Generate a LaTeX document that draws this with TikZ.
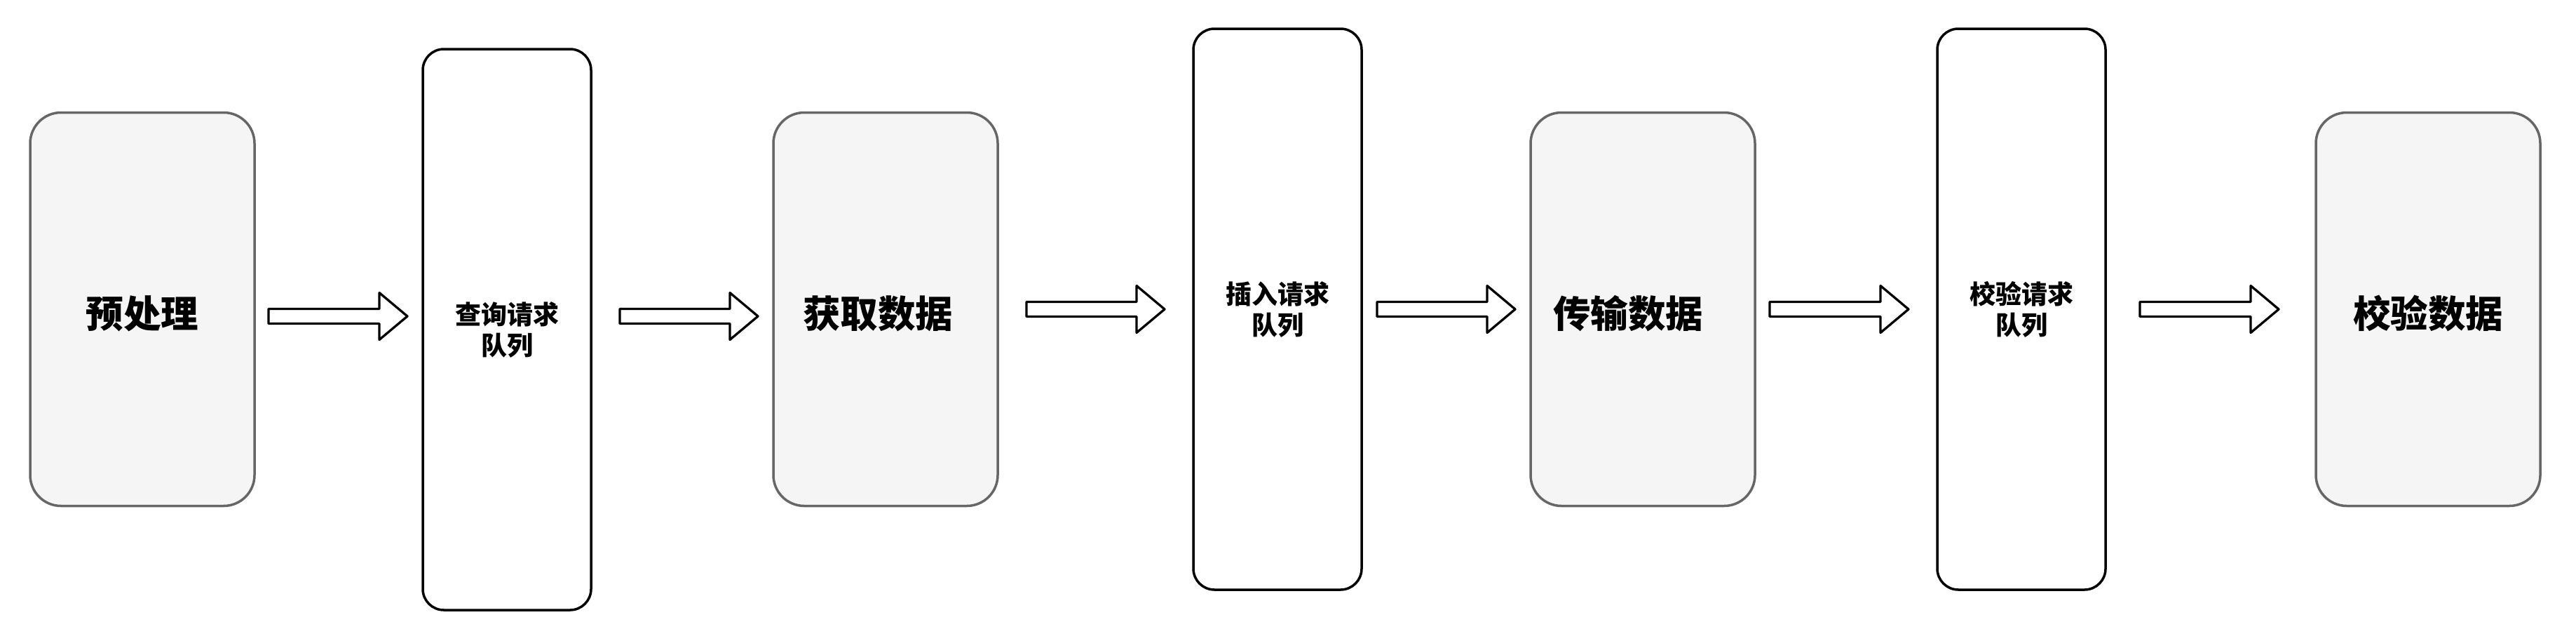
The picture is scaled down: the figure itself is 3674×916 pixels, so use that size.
\documentclass[tikz,border=0pt]{standalone}
\usepackage{fontspec}
\setmainfont{Noto Sans CJK SC}
\usetikzlibrary{calc}
\definecolor{boxfill}{HTML}{F5F5F5}
\definecolor{boxline}{HTML}{666666}
\tikzset{
  stagebox/.style={draw=boxline, fill=boxfill, line width=3.5pt, rounded corners=44pt,
    minimum width=320pt, minimum height=561pt, inner sep=0pt, outer sep=0pt,
    text height=52pt, text depth=0pt,
    font=\fontsize{53.5}{64}\selectfont\bfseries},
  queuebox/.style={draw=black, fill=white, line width=3.5pt, rounded corners=30pt,
    minimum width=240pt, minimum height=800pt, inner sep=0pt, outer sep=0pt, align=center,
    font=\fontsize{37}{44}\selectfont\bfseries},
  fatarrow/.style={draw=black, fill=white, line width=3.3pt, line join=round}
}
\newcommand\fatarrowfromto[2]{\draw[fatarrow] ($(#1)+(0,10.5)$) -- ($(#2)+(-40,10.5)$) -- ($(#2)+(-40,33.5)$) -- (#2) -- ($(#2)+(-40,-33.5)$) -- ($(#2)+(-40,-10.5)$) -- ($(#1)+(0,-10.5)$) -- cycle;}
\begin{document}
\begin{tikzpicture}[x=1pt,y=-1pt]
\useasboundingbox (0,0) rectangle (3674,916);
\node[stagebox] (s1) at (203,441) {预处理};
\node[queuebox] (q1) at (723,470) {查询请求\\队列};
\node[stagebox] (s2) at (1263,441) {\hspace*{-22pt}获取数据};
\node[queuebox] (q2) at (1822,441) {插入请求\\队列};
\node[stagebox] (s3) at (2343,441) {\hspace*{-42pt}传输数据};
\node[queuebox] (q3) at (2883,441) {校验请求\\队列};
\node[stagebox] (s4) at (3463,441) {校验数据};
\coordinate (a1s) at ($(s1.east)+(20,10)$);
\coordinate (a1e) at ($(q1.west)+(-22,-19)$);
\coordinate (a2s) at ($(q1.east)+(41,-19)$);
\coordinate (a2e) at ($(s2.west)+(-22,10)$);
\coordinate (a3s) at ($(s2.east)+(41,0)$);
\coordinate (a3e) at ($(q2.west)+(-41,0)$);
\coordinate (a4s) at ($(q2.east)+(22,0)$);
\coordinate (a4e) at ($(s3.west)+(-22,0)$);
\coordinate (a5s) at ($(s3.east)+(21,0)$);
\coordinate (a5e) at ($(q3.west)+(-41,0)$);
\coordinate (a6s) at ($(q3.east)+(49,0)$);
\coordinate (a6e) at ($(s4.west)+(-53,0)$);
\fatarrowfromto{a1s}{a1e}
\fatarrowfromto{a2s}{a2e}
\fatarrowfromto{a3s}{a3e}
\fatarrowfromto{a4s}{a4e}
\fatarrowfromto{a5s}{a5e}
\fatarrowfromto{a6s}{a6e}
\end{tikzpicture}
\end{document}
